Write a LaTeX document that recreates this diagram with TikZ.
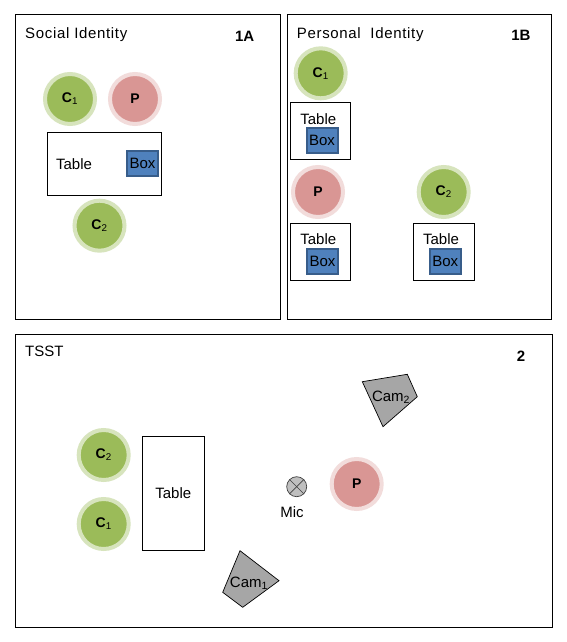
\documentclass[tikz,border=0pt]{standalone}
\usepackage{fontspec}
\setmainfont{Liberation Sans}
\newfontfamily\titlefont[LetterSpace=4.5]{Liberation Sans}
\definecolor{pgreen}{HTML}{9BBB59}
\definecolor{pgreenring}{HTML}{D7E4BD}
\definecolor{ppink}{HTML}{D99694}
\definecolor{ppinkring}{HTML}{F2DCDB}
\definecolor{boxblue}{HTML}{4F81BD}
\definecolor{boxedge}{HTML}{385D8A}
\definecolor{camgray}{HTML}{A6A6A6}
\definecolor{micgray}{HTML}{BFBFBF}
\begin{document}
\begin{tikzpicture}[x=1pt,y=-1pt,
  panel/.style={draw=black,line width=1pt},
  tbl/.style={draw=black,line width=0.9pt,inner sep=0pt},
  boxn/.style={draw=boxedge,fill=boxblue,line width=2pt,minimum width=31pt,minimum height=25pt,inner sep=0pt,font=\fontsize{15}{17}\selectfont},
  cnode/.style={circle,draw=pgreenring,fill=pgreen,line width=4pt,minimum size=50pt,inner sep=0pt,font=\fontsize{14}{16}\selectfont},
  pnode/.style={circle,draw=ppinkring,fill=ppink,line width=4pt,minimum size=50pt,inner sep=0pt,font=\fontsize{14}{16}\selectfont},
  txt/.style={inner sep=0pt,font=\fontsize{15}{17}\selectfont},
  ttl/.style={inner sep=0pt,anchor=base west,font=\fontsize{15}{17}\selectfont},
  lbl/.style={inner sep=0pt,anchor=base east,font=\bfseries\fontsize{15}{17}\selectfont},
  cam/.style={draw=black,fill=camgray,line width=0.7pt,line join=miter},
  mic/.style={circle,draw=black!75,fill=micgray,line width=0.7pt,minimum size=20pt,inner sep=0pt}
]
\useasboundingbox (0,0) rectangle (567,642);
\fill[white] (0,0) rectangle (567,642);

% panels
\draw[panel] (15,15) rectangle (280,319);
\draw[panel] (287,15) rectangle (551,319);
\draw[panel] (15,334) rectangle (552,627);

% ---------- 1A ----------
\node[ttl] (t1a) at (25,38.3) {\titlefont Social Identity};
\node[lbl] (n1a) at (254.5,41.7) {1A};
\node[cnode] (a1) at (70,99) {\textbf{C}\textsubscript{1}};
\node[pnode] (ap) at (135,99) {\textbf{P}};
\node[tbl,minimum width=114.4pt,minimum height=62.6pt] (atab) at (104.5,164) {};
\node[txt] (atabt) at (74,164) {Table};
\node[boxn] (abox) at (142.5,163.7) {Box};
\node[cnode] (a2) at (99.5,225.7) {\textbf{C}\textsubscript{2}};

% ---------- 1B ----------
\node[ttl] (t1b) at (296.7,38.3) {\titlefont Personal\ \ Identity};
\node[lbl] (n1b) at (530.7,41) {1B};
\node[cnode] (b1) at (320.7,73.3) {\textbf{C}\textsubscript{1}};
\node[tbl,minimum width=59.6pt,minimum height=56.6pt] (btab1) at (320.5,131) {};
\node[txt] (btab1t) at (318.3,119) {Table};
\node[boxn] (bbox1) at (322,140.8) {Box};
\node[pnode] (bp) at (318,192) {\textbf{P}};
\node[tbl,minimum width=59.6pt,minimum height=56.6pt] (btab2) at (320.5,252) {};
\node[txt] (btab2t) at (318.3,239.3) {Table};
\node[boxn] (bbox2) at (322.5,261.8) {Box};
\node[cnode] (b2) at (443.7,192) {\textbf{C}\textsubscript{2}};
\node[tbl,minimum width=61pt,minimum height=56.6pt] (btab3) at (444.2,252) {};
\node[txt] (btab3t) at (441,239.3) {Table};
\node[boxn] (bbox3) at (445.3,261.8) {Box};

% ---------- 2 ----------
\node[ttl] (t2) at (25,356) {TSST};
\node[lbl] (n2) at (525.3,361.7) {2};
\node[cnode] (c2) at (103.7,455) {\textbf{C}\textsubscript{2}};
\node[cnode] (c1) at (103.7,524) {\textbf{C}\textsubscript{1}};
\node[tbl,minimum width=62pt,minimum height=114pt] (ctab) at (173.3,493) {};
\node[txt] (ctabt) at (173.3,493.3) {Table};
\node[mic] (mic) at (296.7,486.7) {};
\draw[black!75,line width=0.7pt] (mic.north west) -- (mic.south east);
\draw[black!75,line width=0.7pt] (mic.north east) -- (mic.south west);
\node[txt] (mict) at (292,512.5) {Mic};
\node[pnode] (cp) at (356.7,484) {\textbf{P}};
\draw[cam] (362.3,381.7) -- (407.3,374.3) -- (417.3,396.7) -- (383,426.7) -- cycle;
\node[txt] (cam2) at (391,397) {Cam\textsubscript{2}};
\draw[cam] (240,550.7) -- (279,580.7) -- (242.7,607.3) -- (222.7,592.3) -- cycle;
\node[txt] (cam1) at (249,583) {Cam\textsubscript{1}};
\end{tikzpicture}
\end{document}
